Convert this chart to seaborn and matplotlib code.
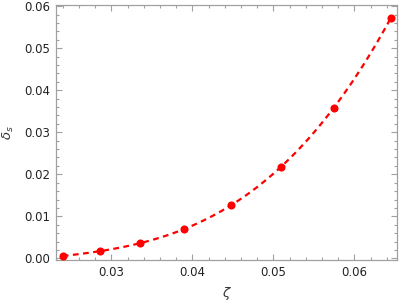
import numpy as np
import pandas as pd
import seaborn as sns
import matplotlib.pyplot as plt
from matplotlib.ticker import MultipleLocator

# data
zeta = [0.0240, 0.0286, 0.0336, 0.0390, 0.0448, 0.0509, 0.0575, 0.0645]
delta_s = [0.00055, 0.00174, 0.00357, 0.00698, 0.01269, 0.02174, 0.03586, 0.05721]
x_ticks = [0.03, 0.04, 0.05, 0.06]
y_ticks = [0.00, 0.01, 0.02, 0.03, 0.04, 0.05, 0.06]

df = pd.DataFrame({"zeta": zeta, "delta_s": delta_s})

sns.set_style("ticks")
plt.rcParams['font.family'] = ['DejaVu Sans']

fig = plt.figure(figsize=(3.99, 3.05), dpi=100)
ax = fig.add_axes([56 / 399, 1 - 260 / 305, 341 / 399, 255 / 305])

# cubic fit drawn by seaborn, dashed like the reference
sns.regplot(data=df, x="zeta", y="delta_s", order=3, ci=None, ax=ax,
            color="#ff0000",
            scatter_kws=dict(s=34, linewidths=0, alpha=1, zorder=3),
            line_kws=dict(linestyle=(0, (2.6, 2.0)), linewidth=1.6))

ax.set_xlim(0.02317, 0.06527)
ax.set_ylim(-0.0004, 0.0603)
ax.set_xticks(x_ticks)
ax.set_yticks(y_ticks)
ax.set_xticklabels([f"{v:.2f}" for v in x_ticks])
ax.set_yticklabels([f"{v:.2f}" for v in y_ticks])
ax.xaxis.set_minor_locator(MultipleLocator(0.002))
ax.yaxis.set_minor_locator(MultipleLocator(0.002))

gray = "#a0a0a0"
for sp in ax.spines.values():
    sp.set_visible(True)
    sp.set_color(gray)
    sp.set_linewidth(0.9)
ax.tick_params(which="both", direction="in", top=True, right=True,
               color=gray, labelcolor="#222222", labelsize=8.5, width=0.8)
ax.tick_params(which="major", length=4, pad=4)
ax.tick_params(which="minor", length=2)

ax.set_xlabel(r"$\zeta$", fontsize=9.5, color="#333333", labelpad=5)
ax.set_ylabel(r"$\delta_s$", fontsize=9.5, color="#333333", labelpad=6)

fig.savefig("out.png", dpi=100)
